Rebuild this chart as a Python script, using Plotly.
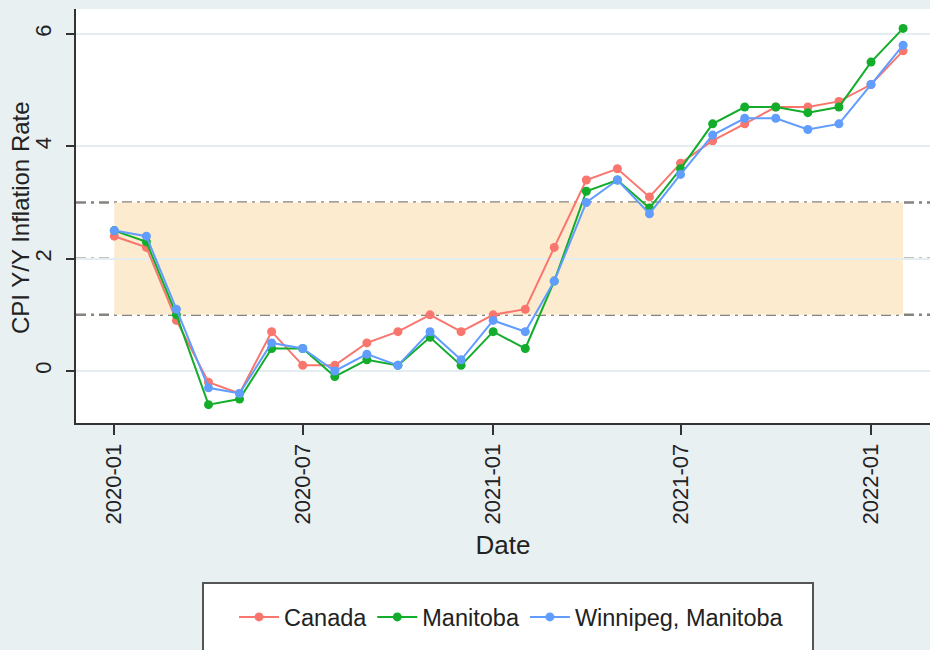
"""CPI 同比通胀率折线图"""
import plotly.graph_objects as go

months = [
    "2020-01", "2020-02", "2020-03", "2020-04", "2020-05", "2020-06",
    "2020-07", "2020-08", "2020-09", "2020-10", "2020-11", "2020-12",
    "2021-01", "2021-02", "2021-03", "2021-04", "2021-05", "2021-06",
    "2021-07", "2021-08", "2021-09", "2021-10", "2021-11", "2021-12",
    "2022-01", "2022-02",
]
canada = [2.4, 2.2, 0.9, -0.2, -0.4, 0.7, 0.1, 0.1, 0.5, 0.7, 1.0, 0.7,
          1.0, 1.1, 2.2, 3.4, 3.6, 3.1, 3.7, 4.1, 4.4, 4.7, 4.7, 4.8,
          5.1, 5.7]
manitoba = [2.5, 2.3, 1.0, -0.6, -0.5, 0.4, 0.4, -0.1, 0.2, 0.1, 0.6, 0.1,
            0.7, 0.4, 1.6, 3.2, 3.4, 2.9, 3.6, 4.4, 4.7, 4.7, 4.6, 4.7,
            5.5, 6.1]
winnipeg = [2.5, 2.4, 1.1, -0.3, -0.4, 0.5, 0.4, 0.0, 0.3, 0.1, 0.7, 0.2,
            0.9, 0.7, 1.6, 3.0, 3.4, 2.8, 3.5, 4.2, 4.5, 4.5, 4.3, 4.4,
            5.1, 5.8]
target_low, target_mid, target_high = 1, 2, 3
tick_dates = ["2020-01-01", "2020-07-01", "2021-01-01", "2021-07-01", "2022-01-01"]
tick_labels = ["2020-01", "2020-07", "2021-01", "2021-07", "2022-01"]

dates = [m + "-01" for m in months]
font = "Liberation Sans, Arial, sans-serif"
bg = "#e8f0f2"

fig = go.Figure()

# 目标区间 1%-3%
fig.add_shape(type="rect", xref="x", yref="y",
              x0=dates[0], x1=dates[-1], y0=target_low, y1=target_high,
              fillcolor="#fdebd0", line_width=0, layer="below")
for v in (target_low, target_mid, target_high):
    fig.add_shape(type="line", xref="paper", yref="y", x0=0, x1=1, y0=v, y1=v,
                  line=dict(color="#85837d", width=2.5, dash="10px,5px,3px,5px"),
                  layer="below")

series = [("Canada", canada, "#f8766d"),
          ("Manitoba", manitoba, "#12ad2b"),
          ("Winnipeg, Manitoba", winnipeg, "#619cff")]
for name, vals, color in series:
    fig.add_trace(go.Scatter(
        x=dates, y=vals, mode="lines+markers", name=name,
        line=dict(color=color, width=2),
        marker=dict(color=color, size=9)
    ))

# 图例外框
fig.add_shape(type="rect", xref="paper", yref="paper",
              x0=(203 - 76) / 854, x1=(813 - 76) / 854,
              y0=(423 - 700) / 414, y1=(423 - 583) / 414,
              fillcolor="white", line=dict(color="#555555", width=2), layer="below")

# y 轴标题
fig.add_annotation(text="CPI Y/Y Inflation Rate", xref="paper", yref="paper",
                   x=0, y=0.5, xanchor="center", yanchor="middle",
                   xshift=-56, yshift=-2, textangle=-90, showarrow=False,
                   font=dict(family=font, size=24, color="#222222"))

fig.update_layout(
    width=930, height=650,
    margin=dict(l=76, r=0, t=9, b=227),
    paper_bgcolor=bg, plot_bgcolor="white",
    font=dict(family=font, size=22, color="#222222"),
    showlegend=True,
    legend=dict(orientation="h", x=0.51, xanchor="center", y=-0.469, yanchor="middle",
                bgcolor="rgba(0,0,0,0)", font=dict(size=23.5), itemwidth=40),
    xaxis=dict(
        range=["2019-11-25", "2022-02-27"],
        tickvals=tick_dates, ticktext=tick_labels, tickangle=-90,
        ticks="outside", ticklen=10, tickwidth=2, tickcolor="#333333",
        showline=True, linecolor="#333333", linewidth=2,
        showgrid=False, zeroline=False, automargin=False,
        title=dict(text="Date", standoff=12),
    ),
    yaxis=dict(
        range=[-0.926, 6.445],
        tickvals=[0, 2, 4, 6], tickangle=-90,
        ticks="outside", ticklen=8, tickwidth=2, tickcolor="#333333",
        ticklabelstandoff=6,
        showline=True, linecolor="#333333", linewidth=2,
        showgrid=True, gridcolor="#e4eef1", gridwidth=2, zeroline=False,
        automargin=False,
    ),
)

fig.write_html("out.html", config={"displayModeBar": False},
               post_script="document.body.style.margin = '0';")
